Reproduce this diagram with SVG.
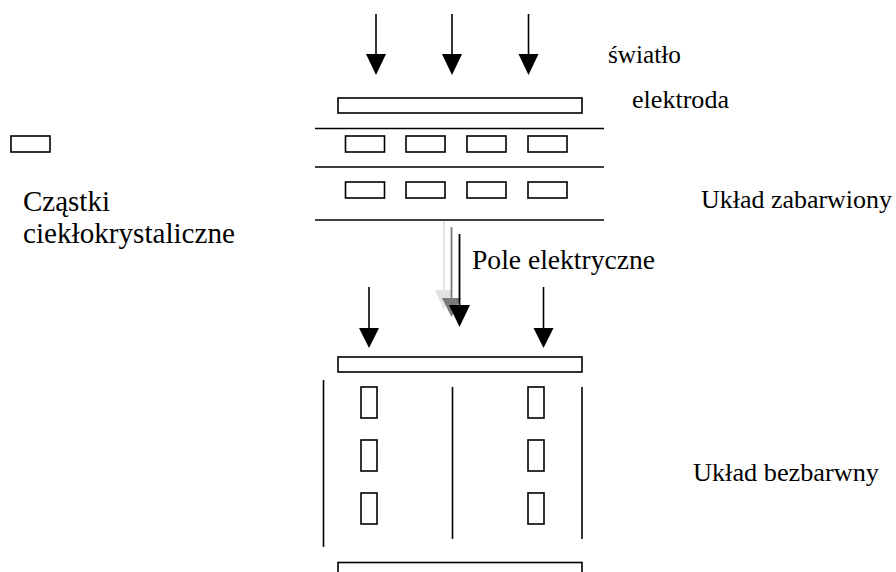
<svg xmlns="http://www.w3.org/2000/svg" width="896" height="572" viewBox="0 0 896 572">
<style>
.box{fill:#fff;stroke:#000;stroke-width:1.6}
.ln{stroke:#000;stroke-width:1.6;fill:none}
text{font-family:'Liberation Serif','Times New Roman',serif;fill:#000}
</style>
<rect width="896" height="572" fill="#fff"/>
<g id="legend-particle"><rect class="box" x="11" y="136" width="39" height="16"/></g>
<g id="label-czastki">
<text x="23" y="211" font-size="29" textLength="87" lengthAdjust="spacingAndGlyphs">Cząstki</text>
<text x="23" y="243" font-size="29" textLength="212" lengthAdjust="spacingAndGlyphs">ciekłokrystaliczne</text>
</g>
<g id="label-swiatlo"><text x="608" y="63" font-size="25" textLength="73" lengthAdjust="spacingAndGlyphs">światło</text></g>
<g id="label-elektroda"><text x="632" y="108" font-size="26" textLength="97" lengthAdjust="spacingAndGlyphs">elektroda</text></g>
<g id="label-zabarwiony"><text x="701" y="208" font-size="26" textLength="191" lengthAdjust="spacingAndGlyphs">Układ zabarwiony</text></g>
<g id="label-pole"><text x="472" y="269" font-size="27" textLength="183" lengthAdjust="spacingAndGlyphs">Pole elektryczne</text></g>
<g id="label-bezbarwny"><text x="693" y="481" font-size="26" textLength="186" lengthAdjust="spacingAndGlyphs">Układ bezbarwny</text></g>

<g id="colored-system">
<rect class="box" x="338" y="98" width="244" height="15"/>
<line class="ln" x1="315" y1="128.5" x2="604" y2="128.5"/>
<line class="ln" x1="315" y1="167" x2="604" y2="167"/>
<line class="ln" x1="315" y1="220" x2="604" y2="220" stroke-width="2.2"/>
<rect class="box" x="345.5" y="136" width="39" height="16"/>
<rect class="box" x="406" y="136" width="39" height="16"/>
<rect class="box" x="467" y="136" width="39" height="16"/>
<rect class="box" x="528" y="136" width="39" height="16"/>
<rect class="box" x="345.5" y="182" width="39" height="16"/>
<rect class="box" x="406" y="182" width="39" height="16"/>
<rect class="box" x="467" y="182" width="39" height="16"/>
<rect class="box" x="528" y="182" width="39" height="16"/>
</g>

<g id="colorless-system">
<rect class="box" x="338" y="357" width="244" height="15"/>
<line class="ln" x1="323.5" y1="380" x2="323.5" y2="547"/>
<line class="ln" x1="452.5" y1="387" x2="452.5" y2="539"/>
<line class="ln" x1="582" y1="387" x2="582" y2="539"/>
<rect class="box" x="361" y="387" width="16" height="31"/>
<rect class="box" x="361" y="440" width="16" height="31"/>
<rect class="box" x="361" y="493" width="16" height="31"/>
<rect class="box" x="528" y="387" width="16" height="31"/>
<rect class="box" x="528" y="440" width="16" height="31"/>
<rect class="box" x="528" y="493" width="16" height="31"/>
<rect class="box" x="338" y="562.5" width="244" height="20"/>
</g>

<g id="connectors">
<line class="ln" x1="376" y1="14" x2="376" y2="56"/>
<polygon points="366,54 386,54 376,75" fill="#000"/>
<line class="ln" x1="452" y1="14" x2="452" y2="56"/>
<polygon points="442,54 462,54 452,75" fill="#000"/>
<line class="ln" x1="528.5" y1="14" x2="528.5" y2="56"/>
<polygon points="518.5,54 538.5,54 528.5,75" fill="#000"/>

<line x1="444" y1="221" x2="444" y2="292" stroke="#e2e2e2" stroke-width="1.8"/>
<polygon points="435,290 453,290 444,310" fill="#e2e2e2"/>
<line x1="451.5" y1="227" x2="451.5" y2="300" stroke="#7a7a7a" stroke-width="1.8"/>
<polygon points="442,298 461,298 451.5,317" fill="#7a7a7a"/>
<line x1="459.5" y1="234" x2="459.5" y2="307" stroke="#000" stroke-width="1.8"/>
<polygon points="449,305 470,305 459.5,327" fill="#000"/>

<line class="ln" x1="369" y1="287" x2="369" y2="330"/>
<polygon points="359,328 379,328 369,348" fill="#000"/>
<line class="ln" x1="543.5" y1="287" x2="543.5" y2="330"/>
<polygon points="533.5,328 553.5,328 543.5,348" fill="#000"/>
</g>
</svg>
